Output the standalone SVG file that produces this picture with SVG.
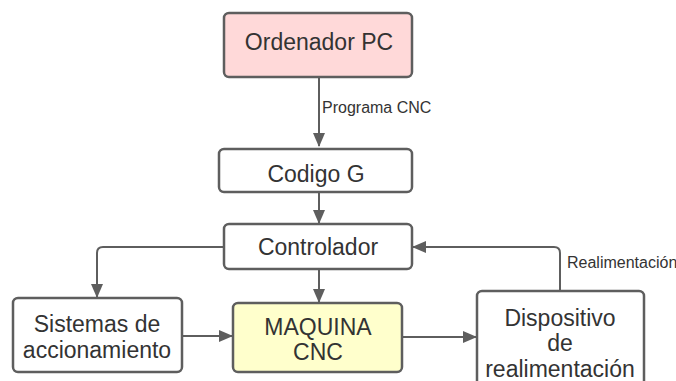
<svg xmlns="http://www.w3.org/2000/svg" width="676" height="381" viewBox="0 0 676 381">
  <style>
    .box { stroke: #5e5e5e; stroke-width: 2.5; fill: #ffffff; }
    .t { font-family: "Liberation Sans", Arial, sans-serif; font-size: 23px; fill: #333333; text-anchor: middle; }
    .lbl { font-family: "Liberation Sans", Arial, sans-serif; font-size: 16px; fill: #333333; }
    .edge { stroke: #5e5e5e; stroke-width: 2; fill: none; marker-end: url(#ah); }
  </style>
  <defs>
    <marker id="ah" viewBox="0 0 14 12" refX="13" refY="6" markerWidth="14" markerHeight="12" markerUnits="userSpaceOnUse" orient="auto">
      <path d="M0,0 L14,6 L0,12 Z" fill="#5e5e5e"/>
    </marker>
  </defs>
  <rect width="676" height="381" fill="#ffffff"/>

  <g id="connectors">
    <path class="edge" d="M319,77 L319,146"/>
    <path class="edge" d="M319,192 L319,223"/>
    <path class="edge" d="M224,247 L103,247 Q97,247 97,253 L97,297"/>
    <path class="edge" d="M319,269 L319,302"/>
    <path class="edge" d="M182,336 L232,336"/>
    <path class="edge" d="M402,337 L476,337"/>
    <path class="edge" d="M560,291 L560,253 Q560,247 554,247 L413,247"/>
    <text class="lbl" x="322" y="113">Programa CNC</text>
    <text class="lbl" x="567" y="268">Realimentación</text>
  </g>

  <g id="ordenador">
    <rect class="box" x="224" y="13" width="188" height="64" rx="5" style="fill:#ffd9d9"/>
    <text class="t" x="319" y="50">Ordenador PC</text>
  </g>

  <g id="codigo">
    <rect class="box" x="219" y="149" width="193" height="43" rx="5"/>
    <text class="t" x="316" y="182">Codigo G</text>
  </g>

  <g id="controlador">
    <rect class="box" x="224" y="224" width="188" height="45" rx="5"/>
    <text class="t" x="318" y="255">Controlador</text>
  </g>

  <g id="sistemas">
    <rect class="box" x="13" y="298" width="169" height="74" rx="5"/>
    <text class="t" x="97" y="332">Sistemas de</text>
    <text class="t" x="97" y="358">accionamiento</text>
  </g>

  <g id="maquina">
    <rect class="box" x="233" y="303" width="169" height="69" rx="5" style="fill:#ffffcc"/>
    <text class="t" x="318" y="335">MAQUINA</text>
    <text class="t" x="318" y="360">CNC</text>
  </g>

  <g id="dispositivo">
    <rect class="box" x="477" y="291" width="167" height="100" rx="5"/>
    <text class="t" x="560" y="326">Dispositivo</text>
    <text class="t" x="560" y="351">de</text>
    <text class="t" x="560" y="377">realimentación</text>
  </g>
</svg>
